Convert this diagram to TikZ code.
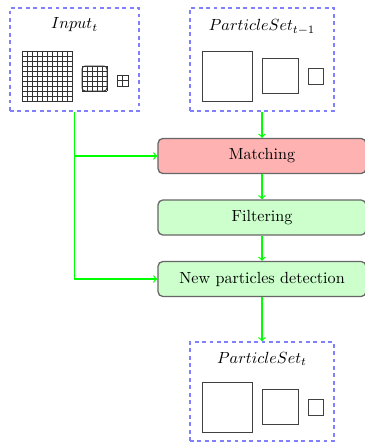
\documentclass[tikz,border=0pt]{standalone}
\usetikzlibrary{calc}
\usetikzlibrary{arrows}
\usetikzlibrary{positioning}
\usepackage{xcolor}
\usepackage{amsmath}

\newcommand{\pxu}{0.62pt}
\tikzset{
  setbox/.style={draw=blue!50, thick, dash pattern=on 2.4pt off 2.2pt, minimum width=144*\pxu, minimum height=103*\pxu, inner sep=0},
  procbox/.style={draw=black!60, thick, rounded corners=3pt, minimum width=208*\pxu, minimum height=35*\pxu, inner sep=0},
  flow/.style={green, thick, ->},
  particle/.style={draw=black!75, semithick}
}

\begin{document}
\begin{tikzpicture}[x=\pxu, y=\pxu]
\useasboundingbox (0,0) rectangle (365,-443);
% data boxes
\node[setbox, minimum width=129*\pxu] (inbox) at (74.5,-59.5) {};
\node[setbox] (prevbox) at (262,-59.5) {};
\node[setbox, minimum height=99*\pxu] (curbox) at (262,-391.5) {};
\node (inlabel) at (74.5,-25) {$Input_t$};
\node (prevlabel) at (262,-27) {$ParticleSet_{t-1}$};
\node (curlabel) at (262,-359) {$ParticleSet_t$};
% input pyramid
\begin{scope}[shift={(22,-101)}]
\draw[black!80, thin] (0,0) grid[step=5] (50,50);
\draw[black!80, semithick] (0,0) rectangle (50,50);
\end{scope}
\begin{scope}[shift={(82,-91)}]
\draw[black!80, thin] (0,0) grid[step=5] (25,25);
\draw[black!80, semithick, rounded corners=2] (0,0) rectangle (25,25);
\end{scope}
\begin{scope}[shift={(117,-86)}]
\draw[black!80, thin] (0,0) grid[step=5.5] (11,11);
\draw[black!80, semithick] (0,0) rectangle (11,11);
\end{scope}
% particles
\foreach \dy in {0,331} {
 \draw[particle] (202,-51-\dy) rectangle (252,-101-\dy);
 \draw[particle] (262,-58-\dy) rectangle (298,-93-\dy);
 \draw[particle] (308,-67-\dy-1) rectangle (323,-83-\dy-1);
}
% processing steps
\node[procbox, fill=red!30] (match) at (262,-156) {Matching};
\node[procbox, fill=green!20] (filter) at (262,-217.5) {Filtering};
\node[procbox, fill=green!20] (detect) at (262,-279) {New particles detection};
% connectors
\draw[flow] (prevbox) -- (match);
\draw[flow] (match) -- (filter);
\draw[flow] (filter) -- (detect);
\draw[flow] (detect) -- (curbox);
\draw[flow] (inbox.south) |- (detect.west);
\draw[flow] (inbox.south |- match.west) -- (match.west);
\end{tikzpicture}
\end{document}
